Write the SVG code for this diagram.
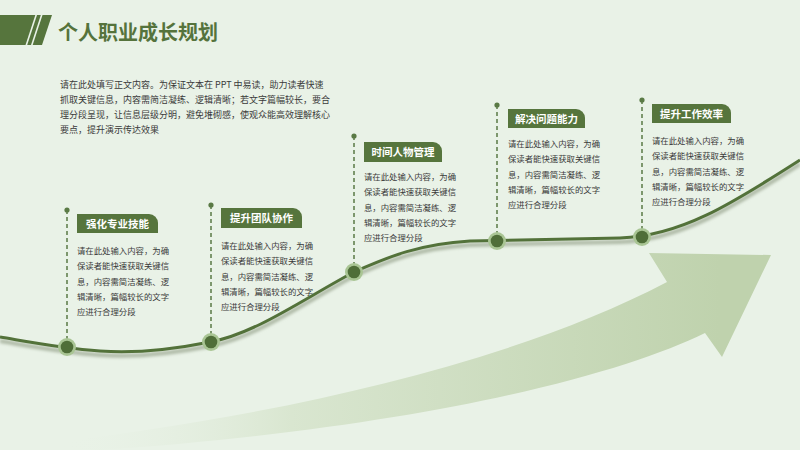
<svg xmlns="http://www.w3.org/2000/svg" width="800" height="450" viewBox="0 0 800 450">
<defs>
<style>
.title{font-family:"Noto Sans CJK SC","Noto Sans",sans-serif;font-weight:700;font-size:20px;fill:#55733c}
.para{font-family:"Noto Sans CJK SC","Noto Sans",sans-serif;font-size:9px;fill:#3a3a3a}
.body{font-family:"Noto Sans CJK SC","Noto Sans",sans-serif;font-size:8.4px;fill:#3a3a3a}
.lbl{font-family:"Noto Sans CJK SC","Noto Sans",sans-serif;font-weight:700;font-size:10.5px;fill:#ffffff;text-anchor:middle}
.tag{fill:#56753d}
.dash{stroke:#5a7a45;stroke-width:1.5;stroke-dasharray:4 3;fill:none}
.pin{fill:#5a7a45}
.ring{fill:#a9c594}
.core{fill:#4f6e38}
</style>
<linearGradient id="arrowGrad" gradientUnits="userSpaceOnUse" x1="60" y1="0" x2="720" y2="0">
<stop offset="0" stop-color="#e9f2e7" stop-opacity="0"/>
<stop offset="0.35" stop-color="#d9e6d0"/>
<stop offset="1" stop-color="#bfd2ad"/>
</linearGradient>
<filter id="blur" x="-5%" y="-20%" width="110%" height="140%">
<feGaussianBlur stdDeviation="1.8"/>
</filter>
</defs>
<rect x="0" y="0" width="800" height="450" fill="#e9f2e7"/>

<g id="title">
<polygon points="0,15 52,15 42,45 0,45" fill="#56753d"/>
<line x1="36.5" y1="14" x2="26" y2="46" stroke="#e9f2e7" stroke-width="1.6"/>
<line x1="42" y1="14" x2="31.5" y2="46" stroke="#e9f2e7" stroke-width="1.6"/>
<text class="title" x="58" y="40">个人职业成长规划</text>
</g>

<g id="intro">
<text class="para" x="60" y="88">请在此处填写正文内容。为保证文本在 PPT 中易读，助力读者快速</text>
<text class="para" x="60" y="103">抓取关键信息，内容需简洁凝练、逻辑清晰；若文字篇幅较长，要合</text>
<text class="para" x="60" y="118">理分段呈现，让信息层级分明，避免堆砌感，使观众能高效理解核心</text>
<text class="para" x="60" y="133">要点，提升演示传达效果</text>
</g>

<g id="big-arrow">
<path d="M40,444 C250,420 500,370 667,282 L649,253 L771,255 L722,357 L705,333 C620,375 420,428 100,450 L40,450 Z" fill="url(#arrowGrad)"/>
</g>

<g id="connectors">
<path d="M0,337 C30,342 60,348 100,351 C140,354 180,348 210,342 C255,334 305,298 354,272 C390,256 420,244 470,241 L620,238 C680,236 730,205 800,160" fill="none" stroke="#aeb9a6" stroke-width="4" transform="translate(0,4)" filter="url(#blur)"/>
<path d="M0,337 C30,342 60,348 100,351 C140,354 180,348 210,342 C255,334 305,298 354,272 C390,256 420,244 470,241 L620,238 C680,236 730,205 800,160" fill="none" stroke="#53723a" stroke-width="3"/>
</g>

<g id="node1">
<line class="dash" x1="67" y1="210" x2="67" y2="340"/>
<circle class="pin" cx="67" cy="210" r="2.6"/>
<path class="tag" d="M77,214 h72 a9,9 0 0 1 9,9 v10 h-81 z"/>
<text class="lbl" x="117.5" y="227.5">强化专业技能</text>
<text class="body" x="77" y="254">请在此处输入内容，为确</text>
<text class="body" x="77" y="269.3">保读者能快速获取关键信</text>
<text class="body" x="77" y="284.6">息，内容需简洁凝练、逻</text>
<text class="body" x="77" y="299.9">辑清晰，篇幅较长的文字</text>
<text class="body" x="77" y="315.2">应进行合理分段</text>
<circle class="ring" cx="67" cy="347" r="9"/>
<circle class="core" cx="67" cy="347" r="6.3"/>
</g>

<g id="node2">
<line class="dash" x1="211" y1="205" x2="211" y2="335"/>
<circle class="pin" cx="211" cy="205" r="2.6"/>
<path class="tag" d="M221,208 h72 a9,9 0 0 1 9,9 v11 h-81 z"/>
<text class="lbl" x="261.5" y="222">提升团队协作</text>
<text class="body" x="221" y="249">请在此处输入内容，为确</text>
<text class="body" x="221" y="264.3">保读者能快速获取关键信</text>
<text class="body" x="221" y="279.6">息，内容需简洁凝练、逻</text>
<text class="body" x="221" y="294.9">辑清晰，篇幅较长的文字</text>
<text class="body" x="221" y="310.2">应进行合理分段</text>
<circle class="ring" cx="211" cy="342" r="9"/>
<circle class="core" cx="211" cy="342" r="6.3"/>
</g>

<g id="node3">
<line class="dash" x1="354" y1="136" x2="354" y2="265"/>
<circle class="pin" cx="354" cy="136" r="2.6"/>
<path class="tag" d="M364,142 h69 a9,9 0 0 1 9,9 v11 h-78 z"/>
<text class="lbl" x="403" y="156">时间人物管理</text>
<text class="body" x="364" y="180">请在此处输入内容，为确</text>
<text class="body" x="364" y="195.3">保读者能快速获取关键信</text>
<text class="body" x="364" y="210.6">息，内容需简洁凝练、逻</text>
<text class="body" x="364" y="225.9">辑清晰，篇幅较长的文字</text>
<text class="body" x="364" y="241.2">应进行合理分段</text>
<circle class="ring" cx="354" cy="272" r="9"/>
<circle class="core" cx="354" cy="272" r="6.3"/>
</g>

<g id="node4">
<line class="dash" x1="497" y1="105" x2="497" y2="234"/>
<circle class="pin" cx="497" cy="105" r="2.6"/>
<path class="tag" d="M508,109 h68 a9,9 0 0 1 9,9 v10 h-77 z"/>
<text class="lbl" x="546.5" y="122.5">解决问题能力</text>
<text class="body" x="508" y="147">请在此处输入内容，为确</text>
<text class="body" x="508" y="162.3">保读者能快速获取关键信</text>
<text class="body" x="508" y="177.6">息，内容需简洁凝练、逻</text>
<text class="body" x="508" y="192.9">辑清晰，篇幅较长的文字</text>
<text class="body" x="508" y="208.2">应进行合理分段</text>
<circle class="ring" cx="497" cy="241" r="9"/>
<circle class="core" cx="497" cy="241" r="6.3"/>
</g>

<g id="node5">
<line class="dash" x1="642" y1="100" x2="642" y2="230"/>
<circle class="pin" cx="642" cy="100" r="2.6"/>
<path class="tag" d="M652,104 h70 a9,9 0 0 1 9,9 v10 h-79 z"/>
<text class="lbl" x="691.5" y="117.5">提升工作效率</text>
<text class="body" x="652" y="144">请在此处输入内容，为确</text>
<text class="body" x="652" y="159.3">保读者能快速获取关键信</text>
<text class="body" x="652" y="174.6">息，内容需简洁凝练、逻</text>
<text class="body" x="652" y="189.9">辑清晰，篇幅较长的文字</text>
<text class="body" x="652" y="205.2">应进行合理分段</text>
<circle class="ring" cx="642" cy="237" r="9"/>
<circle class="core" cx="642" cy="237" r="6.3"/>
</g>
</svg>
